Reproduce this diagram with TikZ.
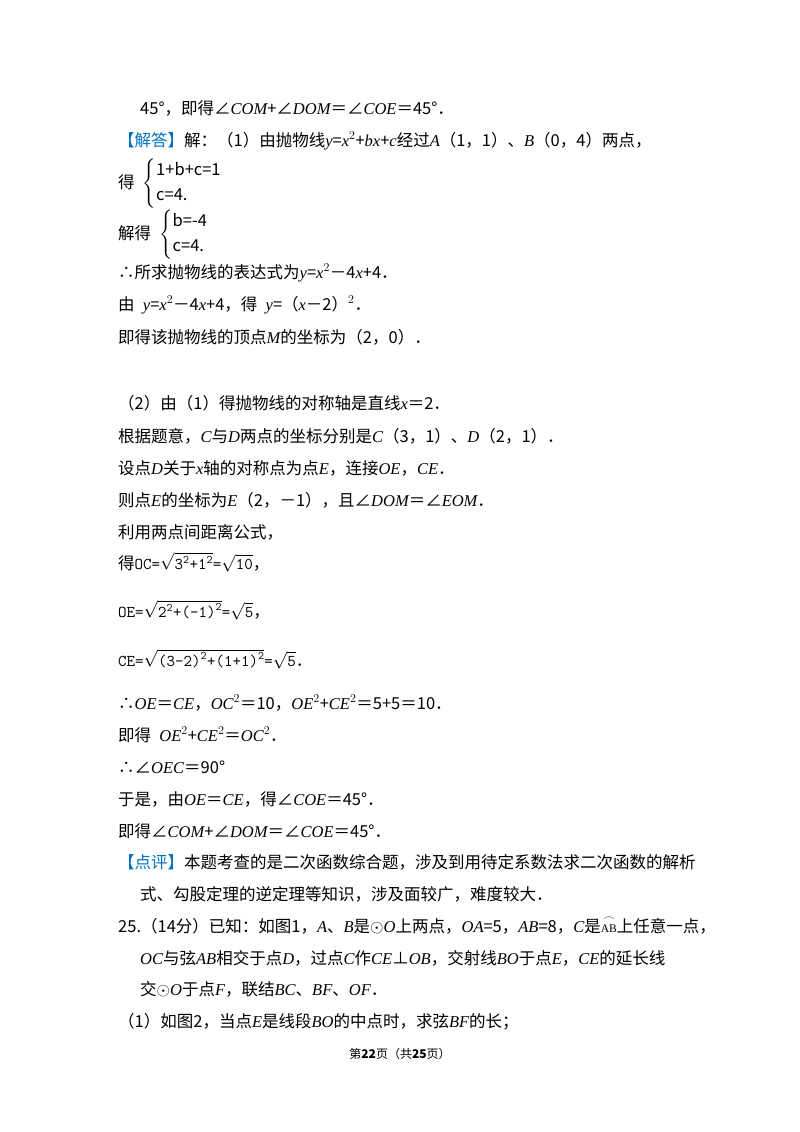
\documentclass[tikz,border=0pt]{standalone}
\usepackage{amsmath,amssymb}
\usepackage{fontspec}
\setmainfont{Liberation Serif}
\newfontfamily\cjk{Noto Sans CJK SC}
\definecolor{ansblue}{RGB}{0,112,192}
\newcommand{\hd}[1]{{\color{ansblue}\cjk 【#1】}}
\newcommand{\mi}[1]{{\rmfamily\itshape #1}}
\begin{document}
\begin{tikzpicture}[x=1pt,y=-1pt,
  txt/.style={anchor=base west,inner sep=0pt,font=\fontsize{16.5}{20}\selectfont\cjk},
  foot/.style={anchor=base,inner sep=0pt,font=\fontsize{12}{14}\selectfont\cjk}]
\useasboundingbox (0,0) rectangle (800,1132);
% first part
\node[txt] (l1) at (140,114) {45°，即得∠\mi{COM}+∠\mi{DOM}＝∠\mi{COE}＝45°．};
\node[txt] (l2) at (118,146) {\hd{解答}解：（1）由抛物线\mi{y}=\mi{x}$^2$+\mi{bx}+\mi{c}经过\mi{A}（1，1）、\mi{B}（0，4）两点，};
\node[txt] (l3) at (118,188) {得\enspace$\begin{cases}\text{1+b+c=1}\\[1pt] \text{c=4.}\end{cases}$};
\node[txt] (l4) at (118,239) {解得\enspace$\begin{cases}\text{b=-4}\\[1pt] \text{c=4.}\end{cases}$};
\node[txt] (l5) at (118,278) {∴所求抛物线的表达式为\mi{y}=\mi{x}$^2$－4\mi{x}+4．};
\node[txt] (l6) at (118,310) {由\enspace\mi{y}=\mi{x}$^2$－4\mi{x}+4，得\enspace\mi{y}=（\mi{x}－2）$^2$．};
\node[txt] (l7) at (118,343) {即得该抛物线的顶点\mi{M}的坐标为（2，0）．};
% second part
\node[txt] (l8) at (118,409) {（2）由（1）得抛物线的对称轴是直线\mi{x}＝2．};
\node[txt] (l9) at (118,442) {根据题意，\mi{C}与\mi{D}两点的坐标分别是\mi{C}（3，1）、\mi{D}（2，1）．};
\node[txt] (l10) at (118,474) {设点\mi{D}关于\mi{x}轴的对称点为点\mi{E}，连接\mi{OE}，\mi{CE}．};
\node[txt] (l11) at (118,506) {则点\mi{E}的坐标为\mi{E}（2，－1），且∠\mi{DOM}＝∠\mi{EOM}．};
\node[txt] (l12) at (118,538) {利用两点间距离公式，};
\node[txt] (l13) at (118,569) {得\texttt{OC=}$\sqrt{\texttt{3}^{\texttt{2}}\texttt{+1}^{\texttt{2}}}$\texttt{=}$\sqrt{\texttt{10}}$，};
\node[txt] (l14) at (118,617) {\texttt{OE=}$\sqrt{\texttt{2}^{\texttt{2}}\texttt{+(-1)}^{\texttt{2}}}$\texttt{=}$\sqrt{\texttt{5}}$，};
\node[txt] (l15) at (118,666) {\texttt{CE=}$\sqrt{\texttt{(3-2)}^{\texttt{2}}\texttt{+(1+1)}^{\texttt{2}}}$\texttt{=}$\sqrt{\texttt{5}}$．};
\node[txt] (l16) at (118,709) {∴\mi{OE}＝\mi{CE}，\mi{OC}$^2$＝10，\mi{OE}$^2$+\mi{CE}$^2$＝5+5＝10．};
\node[txt] (l17) at (118,741) {即得\enspace\mi{OE}$^2$+\mi{CE}$^2$＝\mi{OC}$^2$．};
\node[txt] (l18) at (118,773) {∴∠\mi{OEC}＝90°};
\node[txt] (l19) at (118,805) {于是，由\mi{OE}＝\mi{CE}，得∠\mi{COE}＝45°．};
\node[txt] (l20) at (118,837) {即得∠\mi{COM}+∠\mi{DOM}＝∠\mi{COE}＝45°．};
% comment and next problem
\node[txt] (l21) at (118,868) {\hd{点评}本题考查的是二次函数综合题，涉及到用待定系数法求二次函数的解析};
\node[txt] (l22) at (140,900) {式、勾股定理的逆定理等知识，涉及面较广，难度较大．};
\node[txt] (l23) at (118,932) {25.（14分）已知：如图1，\mi{A}、\mi{B}是$\odot$\mi{O}上两点，\mi{OA}=5，\mi{AB}=8，\mi{C}是$\overset{\frown}{\mathrm{\scriptstyle AB}}$上任意一点，};
\node[txt] (l24) at (140,964) {\mi{OC}与弦\mi{AB}相交于点\mi{D}，过点\mi{C}作\mi{CE}⊥\mi{OB}，交射线\mi{BO}于点\mi{E}，\mi{CE}的延长线};
\node[txt] (l25) at (140,995) {交$\odot$\mi{O}于点\mi{F}，联结\mi{BC}、\mi{BF}、\mi{OF}．};
\node[txt] (l26) at (118,1027) {（1）如图2，当点\mi{E}是线段\mi{BO}的中点时，求弦\mi{BF}的长；};
\node[foot] (pg) at (400,1058) {第\textbf{22}页（共\textbf{25}页）};
\end{tikzpicture}
\end{document}
